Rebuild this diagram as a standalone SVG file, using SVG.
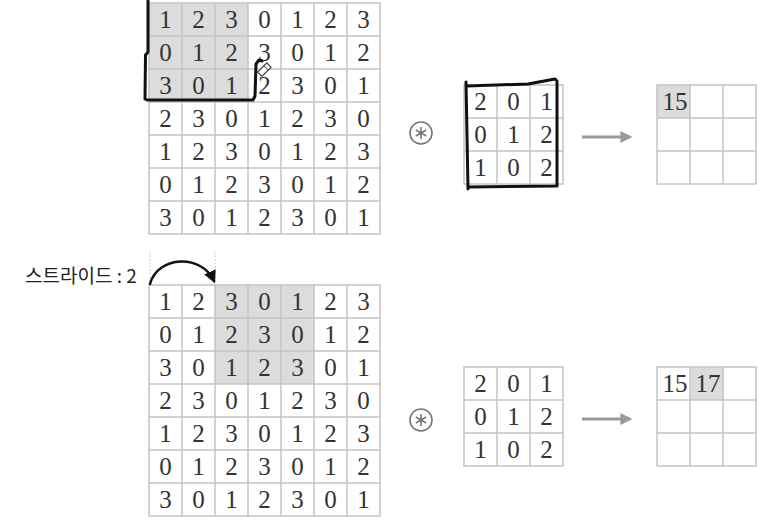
<svg xmlns="http://www.w3.org/2000/svg" width="770" height="524" viewBox="0 0 770 524">
<defs>
<style>
.bg{fill:#ffffff}
.sh{fill:#dcdcdc}
.gl{fill:none;stroke:#c4c4c4;stroke-width:1.5}
.n{font-family:"Liberation Serif","DejaVu Serif",serif;font-size:25px;fill:#333;text-anchor:middle}
.lbl{font-family:"Noto Sans CJK KR","Noto Sans",sans-serif;font-size:19px;fill:#222}
.ink{fill:none;stroke:#111;stroke-width:3;stroke-linecap:round;stroke-linejoin:round}
.op{fill:none;stroke:#777;stroke-width:1.6}
.arr{stroke:#999;stroke-width:3;fill:none}
.dot{stroke:#bbb;stroke-width:1;stroke-dasharray:1.5 2}
</style>
<marker id="gh" viewBox="0 0 10 10" refX="8" refY="5" markerWidth="4" markerHeight="4" orient="auto" markerUnits="strokeWidth">
<path d="M0,0 L10,5 L0,10 z" fill="#999"/>
</marker>
<marker id="bh" viewBox="0 0 10 10" refX="8" refY="5" markerWidth="5" markerHeight="5" orient="auto" markerUnits="strokeWidth">
<path d="M0,0 L10,5 L0,10 z" fill="#111"/>
</marker>
<g id="grid7">
<rect x="0" y="0" width="231" height="231" class="gl"/>
<path class="gl" d="M33,0V231M66,0V231M99,0V231M132,0V231M165,0V231M198,0V231M0,33H231M0,66H231M0,99H231M0,132H231M0,165H231M0,198H231"/>
</g>
<g id="grid3">
<rect x="0" y="0" width="99" height="99" class="gl"/>
<path class="gl" d="M33,0V99M66,0V99M0,33H99M0,66H99"/>
</g>
<g id="conv">
<circle cx="0" cy="0" r="11" class="op"/>
<path class="op" stroke-width="1.3" d="M0,-6V6M-5.2,-3L5.2,3M-5.2,3L5.2,-3"/>
</g>
</defs>
<rect width="770" height="524" class="bg"/>

<g id="input-top">
<rect x="149" y="3" width="99" height="99" class="sh"/>
<use href="#grid7" x="149" y="3"/>
<text class="n" x="165.5" y="28">1</text><text class="n" x="198.5" y="28">2</text><text class="n" x="231.5" y="28">3</text><text class="n" x="264.5" y="28">0</text><text class="n" x="297.5" y="28">1</text><text class="n" x="330.5" y="28">2</text><text class="n" x="363.5" y="28">3</text>
<text class="n" x="165.5" y="61">0</text><text class="n" x="198.5" y="61">1</text><text class="n" x="231.5" y="61">2</text><text class="n" x="264.5" y="61">3</text><text class="n" x="297.5" y="61">0</text><text class="n" x="330.5" y="61">1</text><text class="n" x="363.5" y="61">2</text>
<text class="n" x="165.5" y="94">3</text><text class="n" x="198.5" y="94">0</text><text class="n" x="231.5" y="94">1</text><text class="n" x="264.5" y="94">2</text><text class="n" x="297.5" y="94">3</text><text class="n" x="330.5" y="94">0</text><text class="n" x="363.5" y="94">1</text>
<text class="n" x="165.5" y="127">2</text><text class="n" x="198.5" y="127">3</text><text class="n" x="231.5" y="127">0</text><text class="n" x="264.5" y="127">1</text><text class="n" x="297.5" y="127">2</text><text class="n" x="330.5" y="127">3</text><text class="n" x="363.5" y="127">0</text>
<text class="n" x="165.5" y="160">1</text><text class="n" x="198.5" y="160">2</text><text class="n" x="231.5" y="160">3</text><text class="n" x="264.5" y="160">0</text><text class="n" x="297.5" y="160">1</text><text class="n" x="330.5" y="160">2</text><text class="n" x="363.5" y="160">3</text>
<text class="n" x="165.5" y="193">0</text><text class="n" x="198.5" y="193">1</text><text class="n" x="231.5" y="193">2</text><text class="n" x="264.5" y="193">3</text><text class="n" x="297.5" y="193">0</text><text class="n" x="330.5" y="193">1</text><text class="n" x="363.5" y="193">2</text>
<text class="n" x="165.5" y="226">3</text><text class="n" x="198.5" y="226">0</text><text class="n" x="231.5" y="226">1</text><text class="n" x="264.5" y="226">2</text><text class="n" x="297.5" y="226">3</text><text class="n" x="330.5" y="226">0</text><text class="n" x="363.5" y="226">1</text>
<path class="ink" d="M148,0 L148,52 L145.5,55 L145,99 L147,100 L253,100 L255,96 L256,64 L259,60 L262,61"/>
<g transform="translate(264,70) rotate(45)"><rect x="-3" y="-7" width="6" height="13" fill="#fff" stroke="#444" stroke-width="1.2"/><path d="M-3,-3H3" stroke="#444" stroke-width="1"/></g>
</g>

<g id="kernel-top">
<use href="#grid3" x="464" y="85"/>
<text class="n" x="480.5" y="110">2</text><text class="n" x="513.5" y="110">0</text><text class="n" x="546.5" y="110">1</text>
<text class="n" x="480.5" y="143">0</text><text class="n" x="513.5" y="143">1</text><text class="n" x="546.5" y="143">2</text>
<text class="n" x="480.5" y="176">1</text><text class="n" x="513.5" y="176">0</text><text class="n" x="546.5" y="176">2</text>
<path class="ink" d="M466,82 L468,189 M467,86 L528,84 L555,79 L557,81 L557,186 M468,187 L557,186"/>
</g>

<g id="output-top">
<rect x="657" y="85" width="33" height="33" class="sh"/>
<use href="#grid3" x="657" y="85"/>
<text class="n" x="675" y="110">15</text>
</g>

<g id="input-bottom">
<rect x="215" y="285" width="99" height="99" class="sh"/>
<use href="#grid7" x="149" y="285"/>
<text class="n" x="165.5" y="310">1</text><text class="n" x="198.5" y="310">2</text><text class="n" x="231.5" y="310">3</text><text class="n" x="264.5" y="310">0</text><text class="n" x="297.5" y="310">1</text><text class="n" x="330.5" y="310">2</text><text class="n" x="363.5" y="310">3</text>
<text class="n" x="165.5" y="343">0</text><text class="n" x="198.5" y="343">1</text><text class="n" x="231.5" y="343">2</text><text class="n" x="264.5" y="343">3</text><text class="n" x="297.5" y="343">0</text><text class="n" x="330.5" y="343">1</text><text class="n" x="363.5" y="343">2</text>
<text class="n" x="165.5" y="376">3</text><text class="n" x="198.5" y="376">0</text><text class="n" x="231.5" y="376">1</text><text class="n" x="264.5" y="376">2</text><text class="n" x="297.5" y="376">3</text><text class="n" x="330.5" y="376">0</text><text class="n" x="363.5" y="376">1</text>
<text class="n" x="165.5" y="409">2</text><text class="n" x="198.5" y="409">3</text><text class="n" x="231.5" y="409">0</text><text class="n" x="264.5" y="409">1</text><text class="n" x="297.5" y="409">2</text><text class="n" x="330.5" y="409">3</text><text class="n" x="363.5" y="409">0</text>
<text class="n" x="165.5" y="442">1</text><text class="n" x="198.5" y="442">2</text><text class="n" x="231.5" y="442">3</text><text class="n" x="264.5" y="442">0</text><text class="n" x="297.5" y="442">1</text><text class="n" x="330.5" y="442">2</text><text class="n" x="363.5" y="442">3</text>
<text class="n" x="165.5" y="475">0</text><text class="n" x="198.5" y="475">1</text><text class="n" x="231.5" y="475">2</text><text class="n" x="264.5" y="475">3</text><text class="n" x="297.5" y="475">0</text><text class="n" x="330.5" y="475">1</text><text class="n" x="363.5" y="475">2</text>
<text class="n" x="165.5" y="508">3</text><text class="n" x="198.5" y="508">0</text><text class="n" x="231.5" y="508">1</text><text class="n" x="264.5" y="508">2</text><text class="n" x="297.5" y="508">3</text><text class="n" x="330.5" y="508">0</text><text class="n" x="363.5" y="508">1</text>
</g>

<g id="stride-label">
<line class="dot" x1="150" y1="252" x2="150" y2="285"/>
<line class="dot" x1="215" y1="252" x2="215" y2="285"/>
<text class="lbl" x="25" y="283">스트라이드 : 2</text>
</g>

<g id="kernel-bottom">
<use href="#grid3" x="464" y="367"/>
<text class="n" x="480.5" y="392">2</text><text class="n" x="513.5" y="392">0</text><text class="n" x="546.5" y="392">1</text>
<text class="n" x="480.5" y="425">0</text><text class="n" x="513.5" y="425">1</text><text class="n" x="546.5" y="425">2</text>
<text class="n" x="480.5" y="458">1</text><text class="n" x="513.5" y="458">0</text><text class="n" x="546.5" y="458">2</text>
</g>

<g id="output-bottom">
<rect x="690" y="367" width="33" height="33" class="sh"/>
<use href="#grid3" x="657" y="367"/>
<text class="n" x="675" y="392">15</text>
<text class="n" x="708" y="392">17</text>
</g>

<g id="connectors">
<use href="#conv" x="421" y="133"/>
<use href="#conv" x="421" y="420"/>
<line class="arr" x1="582" y1="137" x2="630" y2="137" marker-end="url(#gh)"/>
<line class="arr" x1="582" y1="419" x2="630" y2="419" marker-end="url(#gh)"/>
<path d="M150,284 C158,255 202,254 214,281" fill="none" stroke="#111" stroke-width="2.5" stroke-linecap="round" marker-end="url(#bh)"/>
</g>
</svg>
